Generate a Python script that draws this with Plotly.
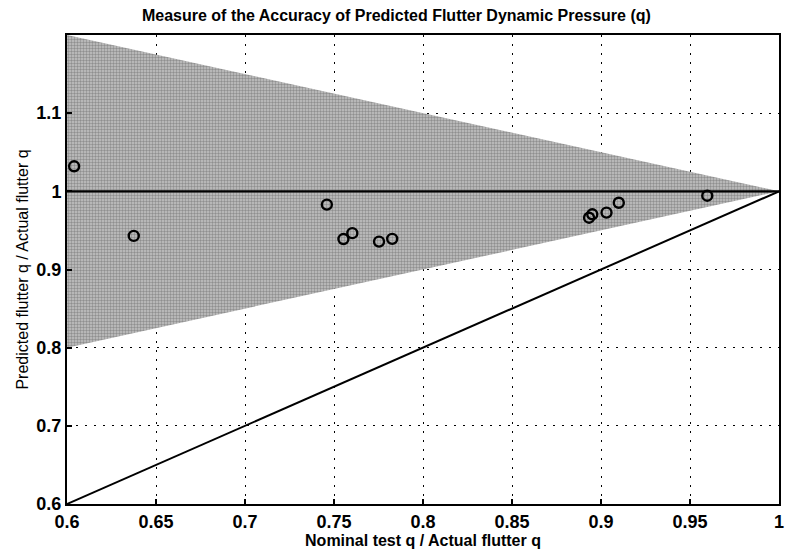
import plotly.graph_objects as go

# Measured flutter results: nominal test q / actual flutter q vs predicted / actual
nominal_ratio = [0.604, 0.6375, 0.746, 0.7553, 0.7603, 0.7753, 0.7827,
                 0.8933, 0.8951, 0.9031, 0.910, 0.9597]
predicted_ratio = [1.032, 0.943, 0.983, 0.939, 0.9465, 0.9357, 0.9392,
                   0.9663, 0.9706, 0.9728, 0.9854, 0.9944]

# Accuracy band: +/- (1 - nominal) envelope converging at 1
band_x = [0.6, 1.0, 0.6, 0.6]
band_y = [1.2, 1.0, 0.8, 1.2]

# Reference lines
unity_x = [0.6, 1.0]
unity_y = [1.0, 1.0]
diag_x = [0.6, 1.0]
diag_y = [0.6, 1.0]

x_ticks = [0.6, 0.65, 0.7, 0.75, 0.8, 0.85, 0.9, 0.95, 1.0]
x_tick_text = ["0.6", "0.65", "0.7", "0.75", "0.8", "0.85", "0.9", "0.95", "1"]
y_ticks = [0.6, 0.7, 0.8, 0.9, 1.0, 1.1]
y_tick_text = ["0.6", "0.7", "0.8", "0.9", "1", "1.1"]

fig = go.Figure()

fig.add_trace(go.Scatter(
    x=band_x, y=band_y, mode="lines", fill="toself",
    line=dict(width=0), fillcolor="#aaaaaa",
    fillpattern=dict(shape=".", fgcolor="#5a5a5a", bgcolor="#c4c4c4",
                     size=3, solidity=0.5),
    hoverinfo="skip", showlegend=False))

fig.add_trace(go.Scatter(x=unity_x, y=unity_y, mode="lines",
                         line=dict(color="black", width=2.4),
                         showlegend=False))
fig.add_trace(go.Scatter(x=diag_x, y=diag_y, mode="lines",
                         line=dict(color="black", width=2),
                         showlegend=False))

fig.add_trace(go.Scatter(
    x=nominal_ratio, y=predicted_ratio, mode="markers",
    marker=dict(symbol="circle-open", size=10, color="black",
                line=dict(width=2.4, color="black")),
    showlegend=False))

axis_common = dict(
    showgrid=True, gridcolor="black", griddash="2px,7px", gridwidth=1.2,
    showline=True, linecolor="black", linewidth=2, mirror=True,
    ticks="inside", ticklen=5, tickcolor="black", tickwidth=1.5,
    zeroline=False, ticklabeloverflow="allow",
    tickfont=dict(family="Liberation Sans", size=18, color="black",
                  weight="bold"),
)

fig.update_xaxes(range=[0.6, 1.0], tickvals=x_ticks, ticktext=x_tick_text,
                 title=dict(text="Nominal test q / Actual flutter q",
                            font=dict(family="Liberation Sans", size=16,
                                      color="black", weight="bold"),
                            standoff=0),
                 layer="above traces", **axis_common)
fig.update_yaxes(range=[0.6, 1.2], tickvals=y_ticks, ticktext=y_tick_text,
                 title=dict(text="Predicted flutter q / Actual flutter q",
                            font=dict(family="Liberation Sans", size=16,
                                      color="black"),
                            standoff=4),
                 layer="above traces", **axis_common)

fig.update_layout(
    width=785, height=550,
    margin=dict(l=67, r=1, t=35, b=46),
    paper_bgcolor="white", plot_bgcolor="white",
    title=dict(text="Measure of the Accuracy of Predicted Flutter Dynamic Pressure (q)",
               x=0.505, xanchor="center", y=0.972, yanchor="middle",
               font=dict(family="Liberation Sans", size=16, color="black",
                         weight="bold")),
)

fig.write_html("out.html")
